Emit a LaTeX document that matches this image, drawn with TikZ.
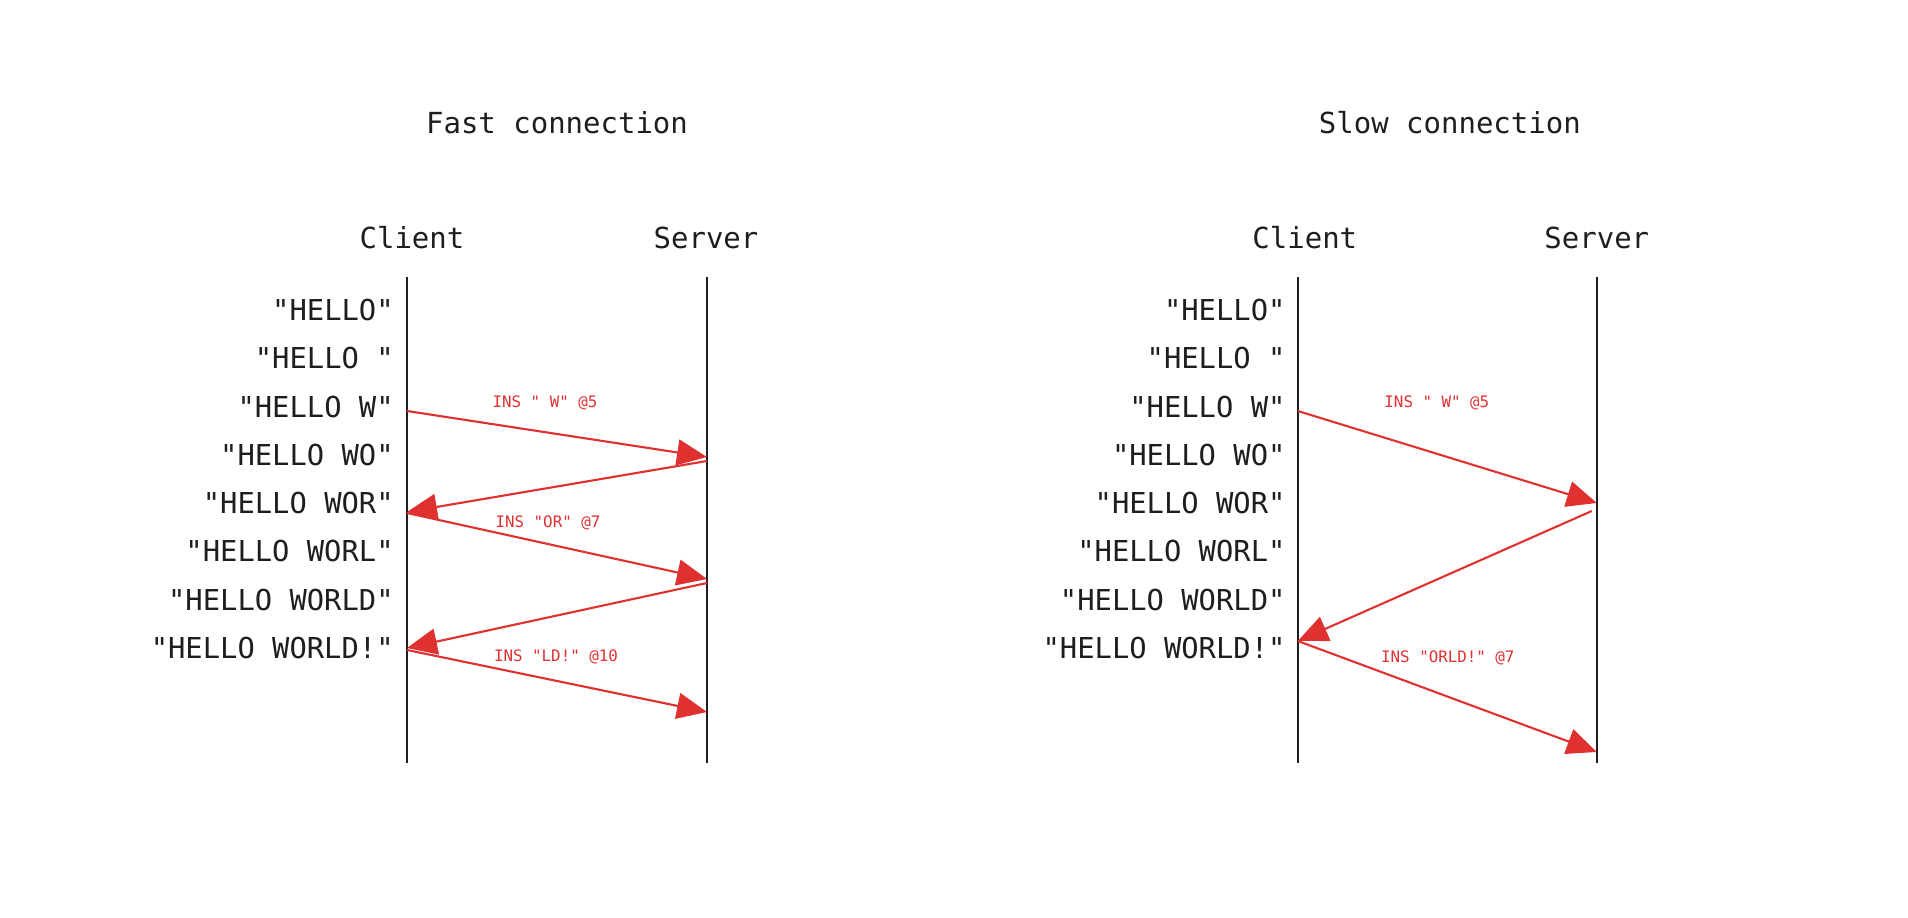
\documentclass[tikz,border=0pt]{standalone}
\usepackage{fontspec}
\setmonofont{DejaVu Sans Mono}
\usetikzlibrary{arrows.meta}
\definecolor{ink}{HTML}{1E1E1E}
\definecolor{msgred}{HTML}{E03131}

\tikzset{
  lifeline/.style={draw=ink, line width=1.2pt},
  msg/.style={draw=msgred, line width=1.2pt, -{Triangle[length=0.6cm, width=0.52cm]}},
  msglabel/.style={text=msgred, font=\ttfamily\fontsize{9}{11}\selectfont},
  heading/.style={text=ink, font=\ttfamily\fontsize{16.5}{20}\selectfont},
  state/.style={anchor=east, inner sep=0pt, text=ink, font=\ttfamily\fontsize{16.4}{20}\selectfont}
}

\begin{document}
\begin{tikzpicture}[x=0.02cm, y=-0.02cm]
\useasboundingbox (0,0) rectangle (1908,918);

% fast connection
\begin{scope}
	\node[heading] (fasttitle) at (557,123) {Fast connection};
	\node[heading] (fastclient) at (412,238) {Client};
	\node[heading] (fastserver) at (706,238) {Server};
	\coordinate (fct) at (407,277);
	\coordinate (fcb) at (407,763);
	\coordinate (fst) at (707,277);
	\coordinate (fsb) at (707,763);
	\draw[lifeline] (fct) -- (fcb);
	\draw[lifeline] (fst) -- (fsb);

	\foreach \s [count=\i from 0] in {"HELLO","HELLO ","HELLO W","HELLO WO","HELLO WOR","HELLO WORL","HELLO WORLD","HELLO WORLD!"}
		\node[state] (fast\i) at (394,{310+48.3*\i}) {\s};

	\coordinate (fc1) at (407,411);
	\coordinate (fs1) at (707,457);
	\coordinate (fs2) at (707,461);
	\coordinate (fc2) at (407,512);
	\coordinate (fc3) at (407,513);
	\coordinate (fs3) at (707,579);
	\coordinate (fs4) at (707,583);
	\coordinate (fc4) at (407,648);
	\coordinate (fc5) at (407,650);
	\coordinate (fs5) at (707,712);

	\draw[msg] (fc1) -- (fs1);
	\draw[msg] (fs2) -- (fc2);
	\draw[msg] (fc3) -- (fs3);
	\draw[msg] (fs4) -- (fc4);
	\draw[msg] (fc5) -- (fs5);

	\node[msglabel] (fastins1) at (545,403) {INS " W" @5};
	\node[msglabel] (fastins2) at (548,523) {INS "OR" @7};
	\node[msglabel] (fastins3) at (556,657) {INS "LD!" @10};
\end{scope}

% slow connection
\begin{scope}[xshift=17.82cm]
	\node[heading] (slowtitle) at (559,123) {Slow connection};
	\node[heading] (slowclient) at (414,238) {Client};
	\node[heading] (slowserver) at (706,238) {Server};
	\coordinate (sct) at (407,277);
	\coordinate (scb) at (407,763);
	\coordinate (sst) at (706,277);
	\coordinate (ssb) at (706,763);
	\draw[lifeline] (sct) -- (scb);
	\draw[lifeline] (sst) -- (ssb);

	\foreach \s [count=\i from 0] in {"HELLO","HELLO ","HELLO W","HELLO WO","HELLO WOR","HELLO WORL","HELLO WORLD","HELLO WORLD!"}
		\node[state] (slow\i) at (395,{310+48.3*\i}) {\s};

	\coordinate (sc1) at (407,411);
	\coordinate (ss1) at (706,503);
	\coordinate (ss2) at (701,511);
	\coordinate (sc2) at (407,641);
	\coordinate (sc3) at (407,641);
	\coordinate (ss3) at (706,752);

	\draw[msg] (sc1) -- (ss1);
	\draw[msg] (ss2) -- (sc2);
	\draw[msg] (sc3) -- (ss3);

	\node[msglabel] (slowins1) at (546,403) {INS " W" @5};
	\node[msglabel] (slowins2) at (557,658) {INS "ORLD!" @7};
\end{scope}
\end{tikzpicture}
\end{document}
